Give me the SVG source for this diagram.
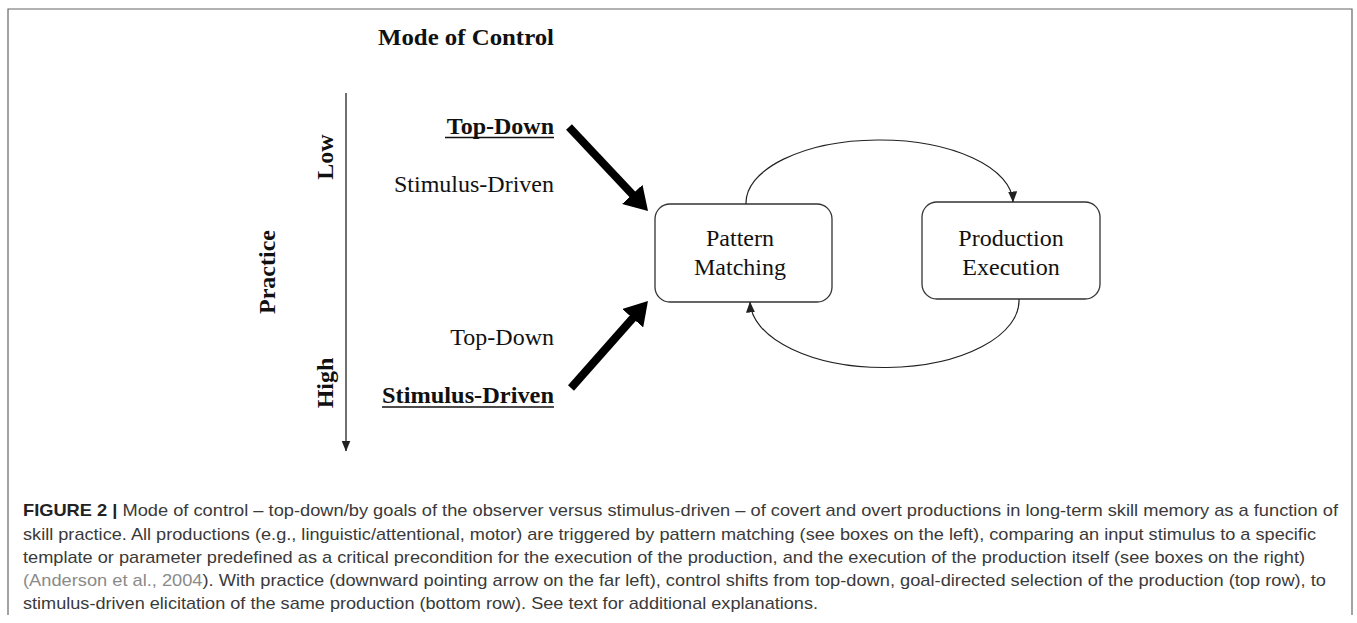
<svg xmlns="http://www.w3.org/2000/svg" width="1357" height="623" viewBox="0 0 1357 623">
<style>
.serif{font-family:"Liberation Serif","Times New Roman",serif;fill:#111;font-size:24px}
.b{font-weight:bold}
.box{fill:#fff;stroke:#333;stroke-width:1.3}
.thin{fill:none;stroke:#222;stroke-width:1.2}
.thick{fill:none;stroke:#000;stroke-width:8}
.cap{font-family:"Liberation Sans",Arial,sans-serif;font-size:17px;fill:#3a3a3a}
.link{fill:#8a8a8a}
</style>
<defs>
<marker id="bighead" markerWidth="24" markerHeight="28" refX="11" refY="14" orient="auto" markerUnits="userSpaceOnUse"><path d="M0,0 L23,14 L0,28 z" fill="#000"/></marker>
<marker id="smallhead" markerWidth="11" markerHeight="9" refX="10.5" refY="4.5" orient="auto" markerUnits="userSpaceOnUse"><path d="M0,0 L11,4.5 L0,9 z" fill="#222"/></marker>
</defs>
<rect width="1357" height="623" fill="#fff"/>
<path d="M8,615 V9 H1352 V615" fill="none" stroke="#666" stroke-width="1.2"/>

<g id="title">
<text class="serif b" x="378" y="45" textLength="176" lengthAdjust="spacingAndGlyphs">Mode of Control</text>
</g>

<g id="practice-axis">
<text class="serif b" transform="translate(275,272) rotate(-90)" text-anchor="middle">Practice</text>
<text class="serif b" transform="translate(333,157) rotate(-90)" text-anchor="middle">Low</text>
<text class="serif b" transform="translate(333,383) rotate(-90)" text-anchor="middle">High</text>
</g>

<g id="labels-low">
<text class="serif b" x="554" y="134" text-anchor="end">Top-Down</text>
<line x1="445" y1="137.5" x2="554" y2="137.5" stroke="#111" stroke-width="1.5"/>
<text class="serif" x="554" y="192" text-anchor="end">Stimulus-Driven</text>
</g>

<g id="labels-high">
<text class="serif" x="554" y="345" text-anchor="end">Top-Down</text>
<text class="serif b" x="554" y="403" text-anchor="end" textLength="172" lengthAdjust="spacingAndGlyphs">Stimulus-Driven</text>
<line x1="382" y1="407" x2="554" y2="407" stroke="#111" stroke-width="1.5"/>
</g>

<g id="pattern-matching">
<rect class="box" x="655" y="204" width="177" height="98" rx="15"/>
<text class="serif" x="740" y="246" text-anchor="middle">Pattern</text>
<text class="serif" x="740" y="275" text-anchor="middle">Matching</text>
</g>

<g id="production-execution">
<rect class="box" x="922" y="202" width="178" height="97" rx="15"/>
<text class="serif" x="1011" y="246" text-anchor="middle">Production</text>
<text class="serif" x="1011" y="275" text-anchor="middle">Execution</text>
</g>

<g id="connectors">
<line x1="346" y1="93" x2="346" y2="451" stroke="#222" stroke-width="1.3" marker-end="url(#smallhead)"/>
<path class="thick" d="M569,127 L639.8,202.3" marker-end="url(#bighead)"/>
<path class="thick" d="M571,388 L640,310" marker-end="url(#bighead)"/>
<path class="thin" d="M746,204 A133.5,63 0 0 1 1013,202" marker-end="url(#smallhead)"/>
<path class="thin" d="M1019,299 A134.5,67 0 0 1 750,302" marker-end="url(#smallhead)"/>
</g>

<g id="caption">
<text class="cap" x="23" y="516" textLength="1315" lengthAdjust="spacingAndGlyphs"><tspan font-weight="bold" fill="#222">FIGURE 2 |</tspan> Mode of control – top-down/by goals of the observer versus stimulus-driven – of covert and overt productions in long-term skill memory as a function of</text>
<text class="cap" x="23" y="539.5" textLength="1293" lengthAdjust="spacingAndGlyphs">skill practice. All productions (e.g., linguistic/attentional, motor) are triggered by pattern matching (see boxes on the left), comparing an input stimulus to a specific</text>
<text class="cap" x="23" y="563" textLength="1282" lengthAdjust="spacingAndGlyphs">template or parameter predefined as a critical precondition for the execution of the production, and the execution of the production itself (see boxes on the right)</text>
<text class="cap" x="23" y="586" textLength="1303" lengthAdjust="spacingAndGlyphs"><tspan class="link">(Anderson et al., 2004</tspan>). With practice (downward pointing arrow on the far left), control shifts from top-down, goal-directed selection of the production (top row), to</text>
<text class="cap" x="23" y="609" textLength="795" lengthAdjust="spacingAndGlyphs">stimulus-driven elicitation of the same production (bottom row). See text for additional explanations.</text>
</g>
</svg>
